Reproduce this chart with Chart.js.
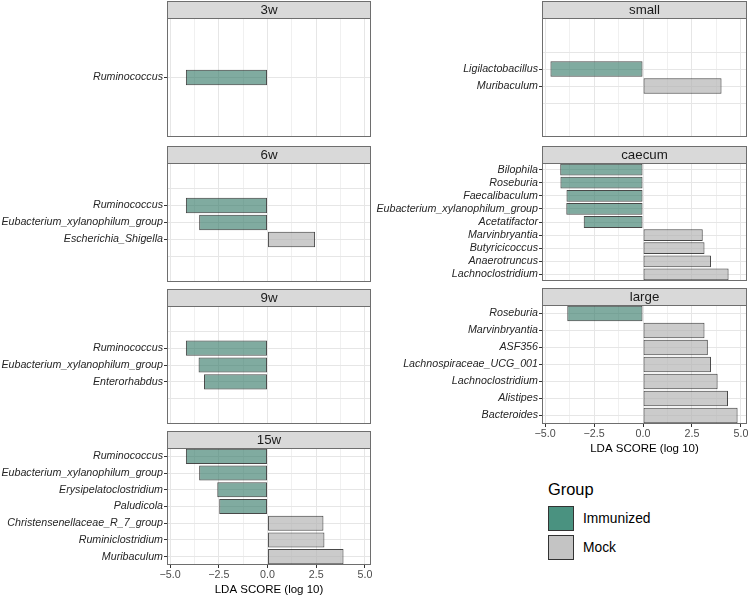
<!DOCTYPE html>
<html>
<head>
<meta charset="utf-8">
<script src="https://cdn.jsdelivr.net/npm/chart.js@4.4.1/dist/chart.umd.min.js"></script>
<style>
    html, body { margin: 0; padding: 0; background: #fff; }
    #page { position: relative; width: 748px; height: 599px; overflow: hidden; font-family: 'Liberation Sans', Arial, Helvetica, sans-serif; }
    canvas { position: absolute; }
    .legend-title { position: absolute; left: 548px; top: 480px; font-size: 16.4px; color: #000; }
    .legend-key { position: absolute; left: 548px; width: 24px; height: 23px; border: 1px solid #333; box-sizing: content-box; }
    .legend-label { position: absolute; left: 583px; font-size: 13.8px; color: #000; line-height: 16px; }
</style>
</head>
<body>
<div id="page">
    <div class="legend-title">Group</div>
    <div class="legend-key" style="top: 506px; background: #4a9280;"></div>
    <div class="legend-label" style="top: 511px;">Immunized</div>
    <div class="legend-key" style="top: 535px; background: #c4c4c4;"></div>
    <div class="legend-label" style="top: 540px;">Mock</div>
</div>
<script>
// LDA scores (negative = Immunized, positive = Mock)
const w3Taxa = ['Ruminococcus'];
const w3Scores = [-4.19];

const w6Taxa = ['Ruminococcus', 'Eubacterium_xylanophilum_group', 'Escherichia_Shigella'];
const w6Scores = [-4.19, -3.51, 2.44];

const w9Taxa = ['Ruminococcus', 'Eubacterium_xylanophilum_group', 'Enterorhabdus'];
const w9Scores = [-4.19, -3.54, -3.26];

const w15Taxa = ['Ruminococcus', 'Eubacterium_xylanophilum_group', 'Erysipelatoclostridium', 'Paludicola',
    'Christensenellaceae_R_7_group', 'Ruminiclostridium', 'Muribaculum'];
const w15Scores = [-4.19, -3.51, -2.58, -2.48, 2.87, 2.92, 3.90];

const smallTaxa = ['Ligilactobacillus', 'Muribaculum'];
const smallScores = [-4.73, 4.01];

const caecumTaxa = ['Bilophila', 'Roseburia', 'Faecalibaculum', 'Eubacterium_xylanophilum_group', 'Acetatifactor',
    'Marvinbryantia', 'Butyricicoccus', 'Anaerotruncus', 'Lachnoclostridium'];
const caecumScores = [-4.23, -4.22, -3.91, -3.92, -3.03, 3.05, 3.14, 3.47, 4.37];

const largeTaxa = ['Roseburia', 'Marvinbryantia', 'ASF356', 'Lachnospiraceae_UCG_001', 'Lachnoclostridium',
    'Alistipes', 'Bacteroides'];
const largeScores = [-3.87, 3.14, 3.31, 3.47, 3.81, 4.34, 4.83];

const xTicks = [-5.0, -2.5, 0.0, 2.5, 5.0];
const xTitle = 'LDA SCORE (log 10)';

document.addEventListener('DOMContentLoaded', () => {
    const FONT = "'Liberation Sans', Arial, Helvetica, sans-serif";
    const X_MIN = -5.16;
    const X_MAX = 5.31;
    const STRIP_H = 18;
    const AXIS_H = 34;

    const colors = {
        immunized: 'rgba(50, 120, 102, 0.62)',
        mock: 'rgba(178, 178, 178, 0.68)',
        barBorder: 'rgba(40, 40, 40, 0.85)',
        grid: '#e6e6e6',
        frame: '#6e6e6e',
        strip: '#d9d9d9'
    };

    // columns: canvas left/width and the width kept for the taxon labels
    const columns = [
        { left: 0, width: 372, axisWidth: 167 },
        { left: 372, width: 376, axisWidth: 170 }
    ];

    // facet layout: strip top, panel bottom, empty slots around the bars, extra grid rows
    const panels = [
        { strip: '3w', taxa: w3Taxa, scores: w3Scores, col: 0, top: 0, bottom: 137, pad: 3, offset: true, extraGrid: [] },
        { strip: '6w', taxa: w6Taxa, scores: w6Scores, col: 0, top: 145, bottom: 282, pad: 2, offset: true, extraGrid: [1, 5] },
        { strip: '9w', taxa: w9Taxa, scores: w9Scores, col: 0, top: 288, bottom: 424, pad: 2, offset: true, extraGrid: [1, 5] },
        { strip: '15w', taxa: w15Taxa, scores: w15Scores, col: 0, top: 430, bottom: 565, pad: 0, offset: true, extraGrid: [], axis: true },
        { strip: 'small', taxa: smallTaxa, scores: smallScores, col: 1, top: 0, bottom: 137, pad: 3, offset: false, extraGrid: [2, 5] },
        { strip: 'caecum', taxa: caecumTaxa, scores: caecumScores, col: 1, top: 145, bottom: 281, pad: 0, offset: true, extraGrid: [] },
        { strip: 'large', taxa: largeTaxa, scores: largeScores, col: 1, top: 287, bottom: 424, pad: 0, offset: true, extraGrid: [], axis: true }
    ];

    // major ticks plus the minor ones half way between them
    const gridValues = [];
    xTicks.forEach((v, i) => {
        gridValues.push(v);
        if (i < xTicks.length - 1) gridValues.push((v + xTicks[i + 1]) / 2);
    });
    const isMajor = v => xTicks.some(t => Math.abs(t - v) < 1e-9);
    const fmt = v => (v < 0 ? '\u2212' : '') + Math.abs(v).toFixed(1);

    // draws the ggplot-like panel frame and the grey strip on top
    const facetFrame = {
        id: 'facetFrame',
        afterDraw(chart, args, opts) {
            const { ctx, chartArea } = chart;
            const l = chartArea.left + 0.5;
            const t = chartArea.top + 0.5;
            const w = chartArea.right - chartArea.left - 1;
            const h = chartArea.bottom - chartArea.top - 1;
            ctx.save();
            ctx.lineWidth = 1;
            ctx.strokeStyle = colors.frame;
            ctx.strokeRect(l, t, w, h);
            ctx.fillStyle = colors.strip;
            ctx.fillRect(l, t - STRIP_H + 1, w, STRIP_H - 1);
            ctx.strokeRect(l, t - STRIP_H + 1, w, STRIP_H - 1);
            ctx.fillStyle = '#1a1a1a';
            ctx.font = `13.3px ${FONT}`;
            ctx.textAlign = 'center';
            ctx.textBaseline = 'middle';
            ctx.fillText(opts.text, l + w / 2, t - STRIP_H / 2 + 1);
            ctx.restore();
        }
    };

    function buildPanel(p) {
        const col = columns[p.col];
        const blanks = Array(p.pad).fill('');
        const labels = [...blanks, ...p.taxa, ...blanks];
        const values = [...blanks.map(() => null), ...p.scores, ...blanks.map(() => null)];
        const height = p.bottom - p.top + (p.axis ? AXIS_H : 1);

        const canvas = document.createElement('canvas');
        canvas.width = col.width;
        canvas.height = height;
        canvas.style.left = col.left + 'px';
        canvas.style.top = p.top + 'px';
        document.getElementById('page').appendChild(canvas);

        new Chart(canvas, {
            type: 'bar',
            data: {
                labels: labels,
                datasets: [{
                    label: 'LDA',
                    data: values,
                    backgroundColor: c => (c.raw < 0 ? colors.immunized : colors.mock),
                    borderColor: colors.barBorder,
                    borderWidth: 1,
                    borderSkipped: false,
                    barPercentage: 0.9,
                    categoryPercentage: 1
                }]
            },
            options: {
                indexAxis: 'y',
                responsive: false,
                animation: false,
                events: [],
                layout: { padding: { top: STRIP_H, right: 1, bottom: p.axis ? 0 : 1, left: 0 } },
                plugins: {
                    legend: { display: false },
                    tooltip: { enabled: false },
                    facetFrame: { text: p.strip }
                },
                scales: {
                    x: {
                        type: 'linear',
                        min: X_MIN,
                        max: X_MAX,
                        afterBuildTicks: scale => {
                            scale.ticks = gridValues.map(v => ({ value: v }));
                        },
                        afterFit: scale => {
                            scale.height = p.axis ? AXIS_H : 0;
                            scale.paddingLeft = 0;
                            scale.paddingRight = 0;
                        },
                        border: { display: false },
                        grid: {
                            color: colors.grid,
                            lineWidth: c => (isMajor(c.tick.value) ? 1 : 0.6),
                            drawTicks: !!p.axis,
                            tickLength: 3,
                            tickColor: c => (isMajor(c.tick.value) ? '#333' : 'rgba(0,0,0,0)'),
                            tickWidth: 1
                        },
                        ticks: {
                            display: !!p.axis,
                            autoSkip: false,
                            maxRotation: 0,
                            padding: 1,
                            color: '#4d4d4d',
                            font: { family: FONT, size: 10.7 },
                            callback: v => (isMajor(v) ? fmt(v) : '')
                        },
                        title: {
                            display: !!p.axis,
                            text: xTitle,
                            color: '#000',
                            font: { family: FONT, size: 11.5 },
                            padding: { top: 0, bottom: 2 }
                        }
                    },
                    y: {
                        type: 'category',
                        offset: p.offset,
                        afterFit: scale => {
                            scale.width = col.axisWidth;
                            scale.paddingTop = 0;
                            scale.paddingBottom = 0;
                        },
                        border: { display: false },
                        grid: {
                            offset: false,
                            color: c => (labels[c.index] || p.extraGrid.includes(c.index) ? colors.grid : 'rgba(0,0,0,0)'),
                            lineWidth: 1,
                            drawTicks: true,
                            tickLength: 3,
                            tickColor: c => (labels[c.index] ? '#333' : 'rgba(0,0,0,0)'),
                            tickWidth: 1
                        },
                        ticks: {
                            autoSkip: false,
                            padding: 1,
                            color: '#262626',
                            font: { family: FONT, size: 10.7, style: 'italic' }
                        }
                    }
                }
            },
            plugins: [facetFrame]
        });
    }

    panels.forEach(buildPanel);
});
</script>
</body>
</html>
